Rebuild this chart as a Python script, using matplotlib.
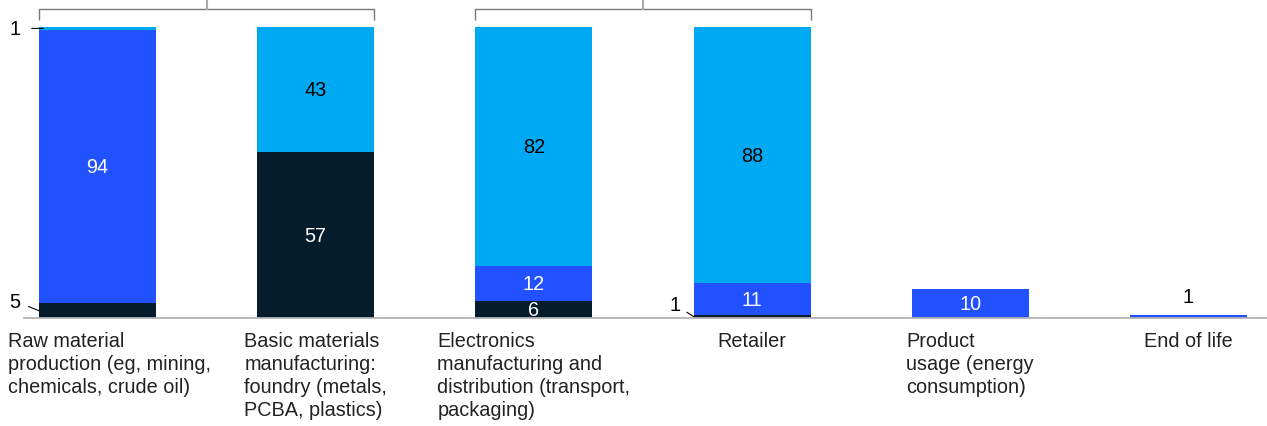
import numpy as np
import matplotlib.pyplot as plt

plt.rcParams['font.family'] = ['Liberation Sans', 'DejaVu Sans']

# Share of emissions by stage, %
stages = [
    "Raw material\nproduction (eg, mining,\nchemicals, crude oil)",
    "Basic materials\nmanufacturing:\nfoundry (metals,\nPCBA, plastics)",
    "Electronics\nmanufacturing and\ndistribution (transport,\npackaging)",
    "Retailer",
    "Product\nusage (energy\nconsumption)",
    "End of life",
]
dark_vals = [5, 57, 6, 1, 0, 0]
blue_vals = [94, 0, 12, 11, 10, 1]
light_vals = [1, 43, 82, 88, 0, 0]

DARK = "#051c2c"
BLUE = "#2251ff"
LIGHT = "#00a9f4"

fig = plt.figure(figsize=(12.67, 4.27), dpi=100)
ax = fig.add_axes([0, 0, 1, 1])
ax.set_xlim(-0.447, 5.36)
ax.set_ylim(-37.1, 109.6)
ax.axis("off")

x = np.arange(len(stages))
w = 0.536
dark = np.array(dark_vals)
blue = np.array(blue_vals)
light = np.array(light_vals)

ax.bar(x, dark, w, color=DARK)
ax.bar(x, blue, w, bottom=dark, color=BLUE)
ax.bar(x, light, w, bottom=dark + blue, color=LIGHT)

# baseline
ax.axhline(0, xmin=24 / 1267, xmax=1, color="#b3b3b3", lw=1.3, zorder=3)

fs = 14.3
# labels inside segments
for i in range(len(stages)):
    if dark[i] >= 5 and i != 0:
        ax.text(x[i], dark[i] / 2, str(dark[i]), ha="center", va="center",
                color="white", fontsize=fs)
    if blue[i] >= 5:
        ax.text(x[i], dark[i] + blue[i] / 2, str(blue[i]), ha="center",
                va="center", color="white", fontsize=fs)
    if light[i] >= 5:
        ax.text(x[i], dark[i] + blue[i] + light[i] / 2, str(light[i]),
                ha="center", va="center", color="black", fontsize=fs)

# small values with leader lines
lead = dict(arrowstyle="-", lw=0.8, color="black", shrinkB=0)
ax.annotate(str(dark[0]), xy=(x[0] - w / 2, dark[0] / 2),
            xytext=(x[0] - w / 2 - 0.11, 5.8), ha="center", va="center",
            fontsize=fs, arrowprops=dict(lead, shrinkA=4))
ax.annotate(str(light[0]), xy=(x[0] - w / 2 + 0.02, 99.5),
            xytext=(x[0] - w / 2 - 0.11, 99.5), ha="center", va="center",
            fontsize=fs, arrowprops=dict(lead, shrinkA=6))
ax.annotate(str(dark[3]), xy=(x[3] - w / 2, dark[3] / 2),
            xytext=(x[3] - w / 2 - 0.085, 4.6), ha="center", va="center",
            fontsize=fs, arrowprops=dict(lead, shrinkA=3))
ax.text(x[5], blue[5] + 3, str(blue[5]), ha="center", va="bottom",
        color="black", fontsize=fs)

# stage names; the first one is pinned to the left edge
for i, s in enumerate(stages):
    if i == 0:
        ax.text(x[i] - w / 2 - 0.142, -4.5, s, ha="left", va="top",
                fontsize=fs, color="#222222", linespacing=1.27)
    else:
        ax.text(x[i], -4.5, s, ha="center", va="top", multialignment="left",
                fontsize=fs, color="#222222", linespacing=1.27)

# brackets over stage groups
for a, b in [(0, 1), (2, 3)]:
    x0, x1 = x[a] - w / 2, x[b] + w / 2
    ax.plot([x0, x0, x1, x1], [102.4, 106.2, 106.2, 102.4],
            color="#777777", lw=1, solid_capstyle="butt")
    ax.plot([(x0 + x1) / 2] * 2, [106.2, 109.6], color="#aaaaaa", lw=1.5)

fig.savefig("out.png", dpi=100)
